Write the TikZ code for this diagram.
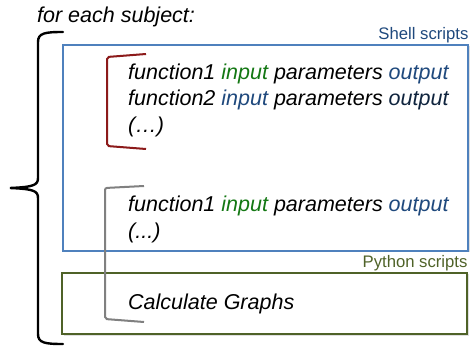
\documentclass[tikz,border=0pt]{standalone}
\usepackage{fontspec}
\setmainfont{Liberation Sans}
\usepackage{xcolor}
\definecolor{ShellBlue}{RGB}{79, 129, 189}
\definecolor{ShellText}{RGB}{31, 73, 125}
\definecolor{PyOlive}{RGB}{79, 98, 40}
\definecolor{InGreen}{RGB}{20, 120, 20}
\definecolor{OutNavy}{RGB}{31, 73, 125}
\definecolor{OutDark}{RGB}{15, 36, 62}
\definecolor{LoopRed}{RGB}{140, 26, 26}
\definecolor{LoopGray}{RGB}{128, 128, 128}
\usetikzlibrary{positioning,shadows}

\begin{document}
\begin{tikzpicture}[
    x=1pt, y=1pt,
    codebox/.style={draw, line width=1.4pt, fill=white, inner sep=0pt,
        drop shadow={shadow xshift=1.5pt, shadow yshift=-1.5pt, opacity=0.25}},
    toollabel/.style={inner sep=0pt, font=\fontsize{16.7}{20}\selectfont},
    fnline/.style={anchor=base west, inner sep=0pt, font=\fontsize{21.5}{26}\selectfont\itshape},
    bracket/.style={line width=2pt, rounded corners=2pt}
]
    \useasboundingbox (0,0) rectangle (472,346);

    % script boxes
    \node[codebox, draw=ShellBlue, minimum width=405pt, minimum height=206pt] (shell) at (265.5,198) {};
    \node[codebox, draw=PyOlive, minimum width=405pt, minimum height=61pt] (py) at (264.5,42.5) {};
    \node[toollabel, text=ShellText, above left=1.5pt and 0pt of shell.north east] (shlbl) {Shell scripts};
    \node[toollabel, text=PyOlive, above left=1.5pt and 0pt of py.north east] (pylbl) {Python scripts};

    % per-subject steps
    \node[fnline] (subj) at (37,323) {for each subject:};
    \node[fnline] (f1) at (128,266) {function1 \textcolor{InGreen}{input} parameters \textcolor{OutNavy}{output}};
    \node[fnline] (f2) at (128,240) {function2 \textcolor{OutNavy}{input} parameters \textcolor{OutDark}{output}};
    \node[fnline] (etc1) at (128,213) {(…)};
    \node[fnline] (g1) at (128,134) {function1 \textcolor{InGreen}{input} parameters \textcolor{OutNavy}{output}};
    \node[fnline] (etc2) at (128,107) {(...)};
    \node[fnline] (calc) at (128,36) {Calculate Graphs};

    % loop brackets
    \draw[bracket, LoopRed] (146,292) -- (107,289) -- (107,200) -- (146,197);
    \draw[bracket, LoopGray] (144,160) -- (105,158) -- (105,27) -- (144,24);

    % outer brace
    \draw[line width=2.4pt, line cap=round]
        (63,314) .. controls (45,314) and (38,313) .. (38,304) -- (38,168)
        .. controls (38,161) and (34,159) .. (10,158)
        .. controls (34,157) and (38,155) .. (38,148) -- (38,12)
        .. controls (38,3) and (45,2) .. (63,2);
\end{tikzpicture}
\end{document}
